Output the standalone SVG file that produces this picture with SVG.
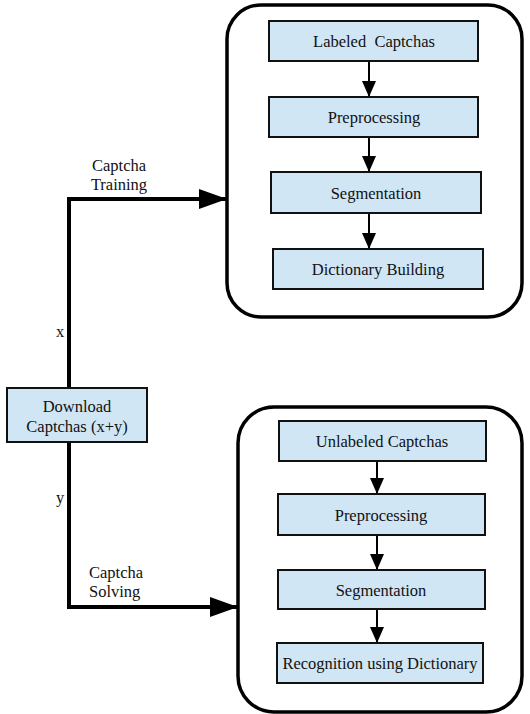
<svg xmlns="http://www.w3.org/2000/svg" width="530" height="714" viewBox="0 0 530 714">
<defs>
<style>
.box{fill:#d0e6f5;stroke:#111;stroke-width:2}
.cont{fill:#fff;stroke:#000;stroke-width:3.5}
.t{font-family:"Liberation Serif","Times New Roman",serif;font-size:16.5px;fill:#111;text-anchor:middle}
.tl{font-family:"Liberation Serif","Times New Roman",serif;font-size:16.5px;fill:#111}
.thin{stroke:#000;stroke-width:2;fill:none}
.thick{stroke:#000;stroke-width:4;fill:none}
</style>
<marker id="ah" viewBox="0 0 16 14" refX="16" refY="7" markerWidth="16" markerHeight="14" markerUnits="userSpaceOnUse" orient="auto">
<path d="M0,0 L16,7 L0,14 Z" fill="#000"/>
</marker>
<marker id="ahb" viewBox="0 0 28 20" refX="28" refY="10" markerWidth="28" markerHeight="20" markerUnits="userSpaceOnUse" orient="auto">
<path d="M0,0 L28,10 L0,20 Z" fill="#000"/>
</marker>
</defs>
<rect width="530" height="714" fill="#fff"/>
<g id="training-container"><rect class="cont" x="227" y="5" width="295" height="312" rx="34"/></g>
<g id="solving-container"><rect class="cont" x="238" y="407" width="284" height="305" rx="36"/></g>
<g id="connectors">
<line class="thin" x1="369" y1="61" x2="369" y2="97" marker-end="url(#ah)"/>
<line class="thin" x1="369" y1="137" x2="369" y2="172" marker-end="url(#ah)"/>
<line class="thin" x1="369" y1="213" x2="369" y2="249" marker-end="url(#ah)"/>
<line class="thin" x1="377" y1="461" x2="377" y2="494" marker-end="url(#ah)"/>
<line class="thin" x1="377" y1="535" x2="377" y2="570" marker-end="url(#ah)"/>
<line class="thin" x1="377" y1="609" x2="377" y2="643" marker-end="url(#ah)"/>
<polyline class="thick" points="69,388 69,199 227,199" marker-end="url(#ahb)"/>
<polyline class="thick" points="69,442 69,607 238,607" marker-end="url(#ahb)"/>
<text class="t" x="119" y="171">Captcha</text>
<text class="t" x="119" y="190">Training</text>
<text class="tl" x="56" y="337">x</text>
<text class="tl" x="56" y="503">y</text>
<text class="tl" x="89" y="578">Captcha</text>
<text class="tl" x="89" y="597">Solving</text>
</g>
<g id="download"><rect class="box" x="7" y="388" width="140" height="54"/><text class="t" x="77" y="412">Download</text><text class="t" x="77" y="432">Captchas (x+y)</text></g>
<g id="labeled"><rect class="box" x="269" y="21" width="209" height="40"/><text class="t" x="374" y="47" xml:space="preserve">Labeled  Captchas</text></g>
<g id="preprocessing1"><rect class="box" x="269" y="97" width="209" height="40"/><text class="t" x="374" y="123">Preprocessing</text></g>
<g id="segmentation1"><rect class="box" x="271" y="172" width="210" height="41"/><text class="t" x="376" y="199">Segmentation</text></g>
<g id="dictionary"><rect class="box" x="273" y="249" width="210" height="40"/><text class="t" x="378" y="275">Dictionary Building</text></g>
<g id="unlabeled"><rect class="box" x="279" y="421" width="207" height="40"/><text class="t" x="382" y="447">Unlabeled Captchas</text></g>
<g id="preprocessing2"><rect class="box" x="278" y="494" width="207" height="41"/><text class="t" x="381" y="521">Preprocessing</text></g>
<g id="segmentation2"><rect class="box" x="278" y="570" width="207" height="39"/><text class="t" x="381" y="596">Segmentation</text></g>
<g id="recognition"><rect class="box" x="277" y="643" width="206" height="40"/><text class="t" x="380" y="669">Recognition using Dictionary</text></g>
</svg>
